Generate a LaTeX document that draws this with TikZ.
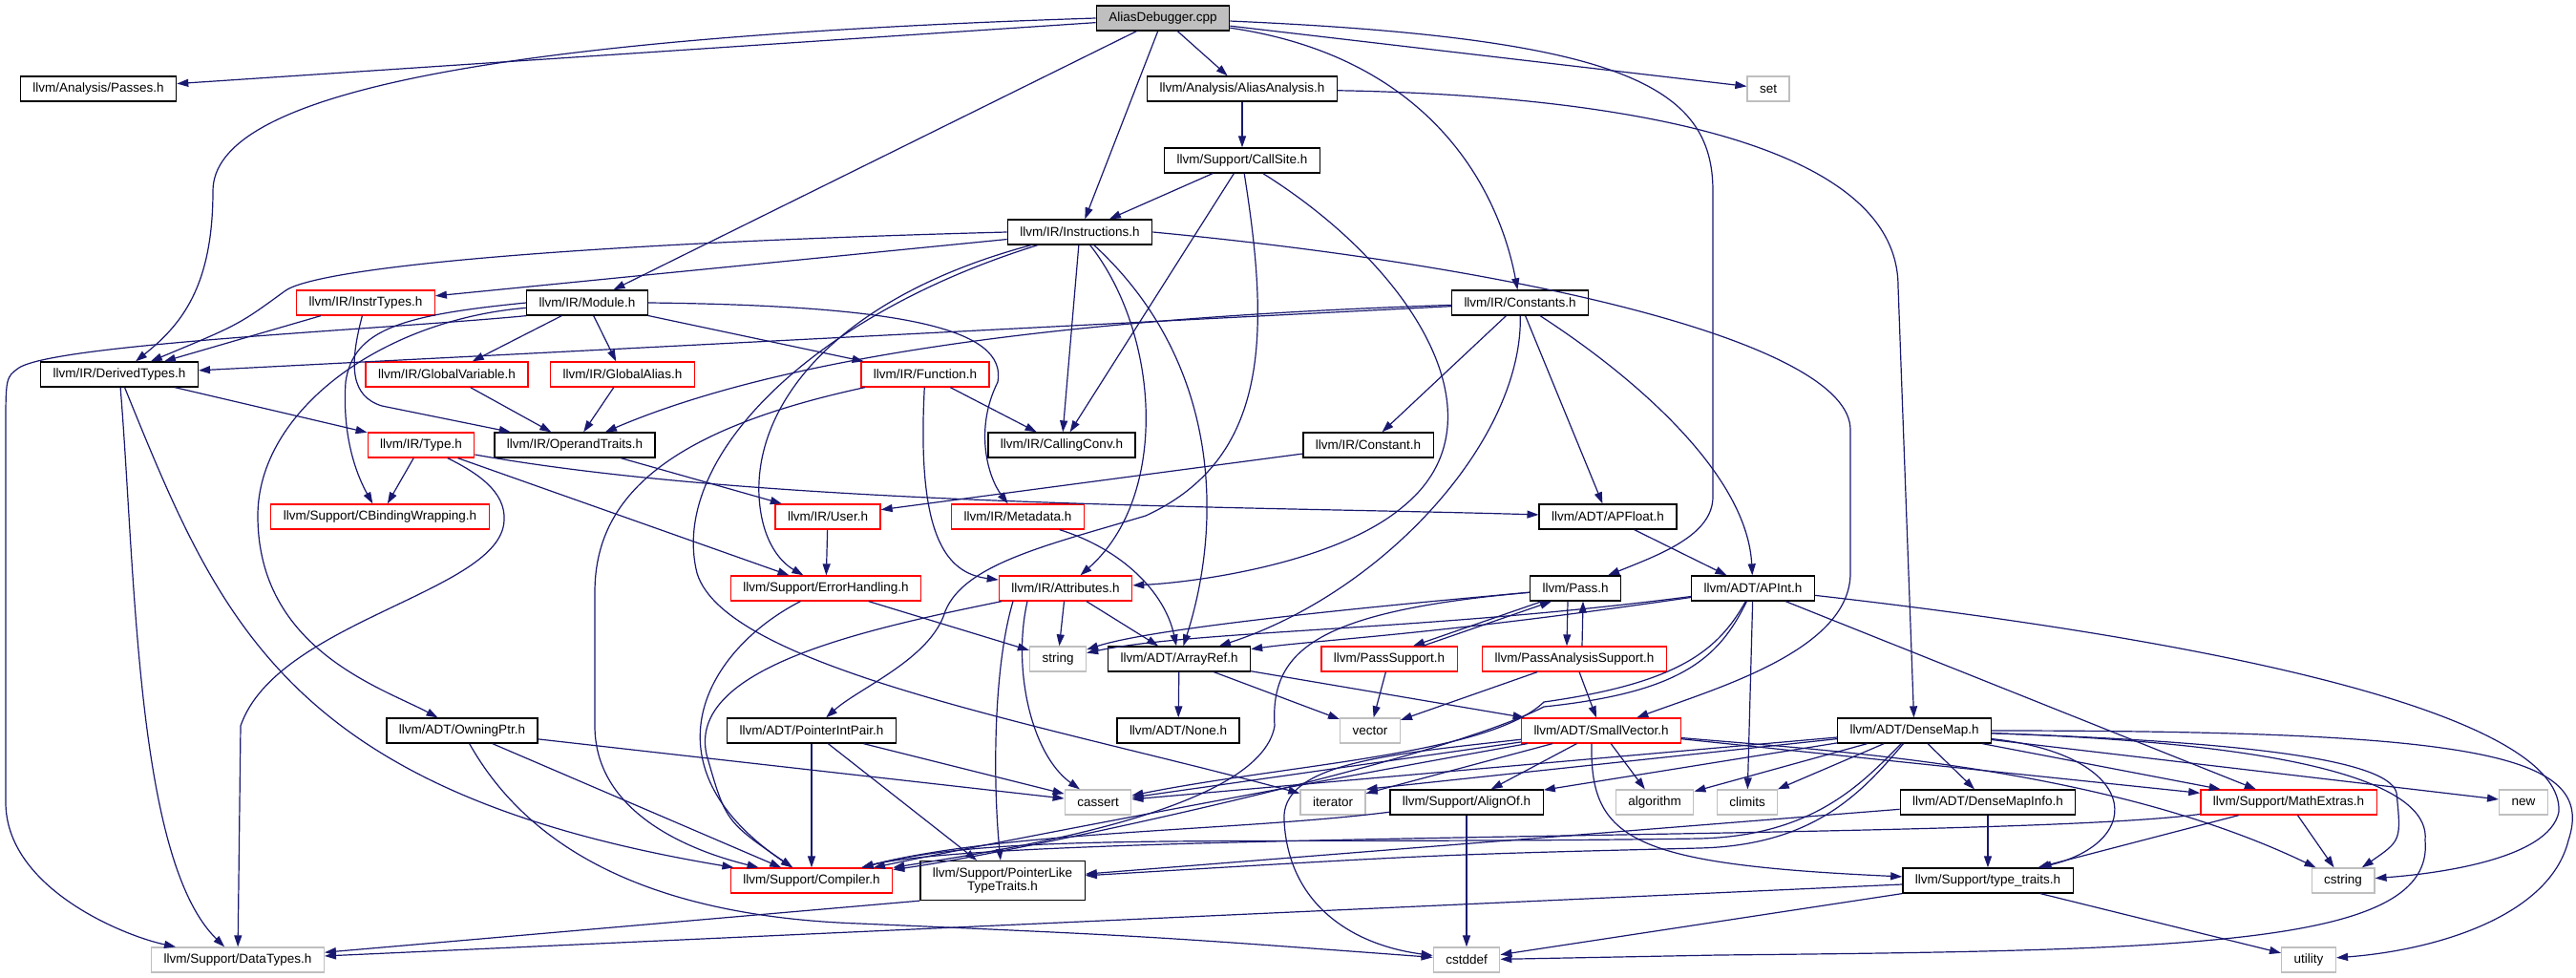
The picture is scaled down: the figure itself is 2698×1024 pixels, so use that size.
\documentclass[tikz,border=0pt]{standalone}
\usepackage{fontspec}
\setmainfont{Liberation Sans}
\usetikzlibrary{arrows.meta}
\definecolor{edgeblue}{HTML}{191970}
\definecolor{boxgray}{HTML}{BFBFBF}
\newcommand{\filefont}{\fontsize{13.5}{14}\selectfont}
\begin{document}
\begin{tikzpicture}[x=1pt, y=-1pt,
    >={Triangle[length=12pt, width=8pt]},
    file/.style={draw=black, fill=white, line width=1.3pt, minimum height=26pt, inner xsep=13pt, inner ysep=0pt, font=\filefont},
    redfile/.style={file, draw=red},
    sysfile/.style={file, draw=boxgray},
    mainfile/.style={file, fill=boxgray},
    dep/.style={->, draw=edgeblue, line width=1.2pt}]
    \useasboundingbox[fill=white] (0,0) rectangle (2698,1024);
    % row 0
    \node[mainfile] (ad) at (1218,19) {AliasDebugger.cpp};
    % row 1
    \node[file] (passes) at (103,93) {llvm/Analysis/Passes.h};
    \node[file] (aa) at (1301,93) {llvm/Analysis/AliasAnalysis.h};
    \node[sysfile] (set) at (1852,93) {set};
    % row 2
    \node[file] (callsite) at (1301,168) {llvm/Support/CallSite.h};
    % row 3
    \node[file] (instr) at (1131,243) {llvm/IR/Instructions.h};
    % row 4
    \node[redfile] (instrtypes) at (383,317) {llvm/IR/InstrTypes.h};
    \node[file] (module) at (615,317) {llvm/IR/Module.h};
    \node[file] (constants) at (1592,317) {llvm/IR/Constants.h};
    % row 5
    \node[file] (derived) at (125,392) {llvm/IR/DerivedTypes.h};
    \node[redfile] (globalvar) at (468,392) {llvm/IR/GlobalVariable.h};
    \node[redfile] (globalalias) at (652,392) {llvm/IR/GlobalAlias.h};
    \node[redfile] (function) at (969,392) {llvm/IR/Function.h};
    % row 6
    \node[redfile] (type) at (441,466) {llvm/IR/Type.h};
    \node[file] (operand) at (602,466) {llvm/IR/OperandTraits.h};
    \node[file] (callconv) at (1112,466) {llvm/IR/CallingConv.h};
    \node[file] (constant) at (1433,466) {llvm/IR/Constant.h};
    % row 7
    \node[redfile] (cbinding) at (398,541) {llvm/Support/CBindingWrapping.h};
    \node[redfile] (user) at (867,541) {llvm/IR/User.h};
    \node[redfile] (metadata) at (1066,541) {llvm/IR/Metadata.h};
    \node[file] (apfloat) at (1684,541) {llvm/ADT/APFloat.h};
    % row 8
    \node[redfile] (errorh) at (865,616) {llvm/Support/ErrorHandling.h};
    \node[redfile] (attrs) at (1116,616) {llvm/IR/Attributes.h};
    \node[file] (pass) at (1650,616) {llvm/Pass.h};
    \node[file] (apint) at (1836,616) {llvm/ADT/APInt.h};
    % row 9
    \node[sysfile] (string) at (1108,690) {string};
    \node[file] (arrayref) at (1235,690) {llvm/ADT/ArrayRef.h};
    \node[redfile] (passsupport) at (1455,690) {llvm/PassSupport.h};
    \node[redfile] (pas) at (1649,690) {llvm/PassAnalysisSupport.h};
    % row 10
    \node[file] (owning) at (484,765) {llvm/ADT/OwningPtr.h};
    \node[file] (ptrint) at (850,765) {llvm/ADT/PointerIntPair.h};
    \node[file] (none) at (1234,765) {llvm/ADT/None.h};
    \node[sysfile] (vector) at (1435,765) {vector};
    \node[redfile] (smallvec) at (1677,765) {llvm/ADT/SmallVector.h};
    \node[file] (densemap) at (2005,765) {llvm/ADT/DenseMap.h};
    % row 11
    \node[sysfile] (cassert) at (1150,840) {cassert};
    \node[sysfile] (iterator) at (1396,840) {iterator};
    \node[file] (alignof) at (1536,840) {llvm/Support/AlignOf.h};
    \node[sysfile] (algorithm) at (1733,840) {algorithm};
    \node[sysfile] (climits) at (1830,840) {climits};
    \node[file] (dmi) at (2082,840) {llvm/ADT/DenseMapInfo.h};
    \node[redfile] (mathx) at (2397,840) {llvm/Support/MathExtras.h};
    \node[sysfile] (newhdr) at (2643,840) {new};
    % row 12
    \node[redfile] (compiler) at (850,922) {llvm/Support/Compiler.h};
    \node[file, align=center, minimum height=41pt] (ptrlike) at (1050,922) {llvm/Support/PointerLike\\TypeTraits.h};
    \node[file] (typetraits) at (2082,922) {llvm/Support/type\_traits.h};
    \node[sysfile] (cstring) at (2454,922) {cstring};
    % row 13
    \node[sysfile] (datatypes) at (249,1005) {llvm/Support/DataTypes.h};
    \node[sysfile] (cstddef) at (1536,1005) {cstddef};
    \node[sysfile] (utility) at (2418,1005) {utility};
    % AliasDebugger.cpp
    \draw[dep] (ad) -- (passes);
    \draw[dep] (ad.west) .. controls (500,40) and (223,100) .. (223,200) .. controls (223,300) and (190,340) .. (derived);
    \draw[dep] (ad) -- (module);
    \draw[dep] (ad) -- (instr);
    \draw[dep] (ad) -- (aa);
    \draw[dep] (ad) .. controls (1500,60) and (1570,200) .. (constants);
    \draw[dep] (ad) .. controls (1700,40) and (1794,90) .. (1794,200) -- (1794,520) .. controls (1794,560) and (1740,580) .. (pass);
    \draw[dep] (ad) -- (set);
    % AliasAnalysis.h
    \draw[dep] (aa) -- (callsite);
    \draw[dep] (aa) .. controls (1700,100) and (1988,150) .. (1988,300) -- (densemap);
    % CallSite.h
    \draw[dep] (callsite) -- (instr);
    \draw[dep] (callsite) -- (callconv);
    \draw[dep] (callsite) .. controls (1330,350) and (1330,480) .. (1200,540) .. controls (1100,570) and (1010,590) .. (990,640) .. controls (975,690) and (900,720) .. (ptrint);
    \draw[dep] (callsite) .. controls (1480,280) and (1580,440) .. (1470,530) .. controls (1400,590) and (1250,610) .. (attrs);
    % Instructions.h
    \draw[dep] (instr) -- (instrtypes);
    \draw[dep] (instr.west) .. controls (600,255) and (330,280) .. (298,305) .. controls (250,340) .. (derived);
    \draw[dep] (instr) -- (callconv);
    \draw[dep] (instr) .. controls (1215,350) and (1225,520) .. (attrs);
    \draw[dep] (instr) .. controls (1280,380) and (1280,550) .. (arrayref);
    \draw[dep] (instr.east) .. controls (1600,280) and (1938,360) .. (1938,450) -- (1938,600) .. controls (1938,680) and (1800,720) .. (smallvec);
    \draw[dep] (instr) .. controls (880,310) and (790,420) .. (795,520) .. controls (798,570) and (820,590) .. (errorh);
    \draw[dep] (instr) .. controls (850,330) and (700,480) .. (730,600) .. controls (760,700) and (1100,760) .. (iterator);
    % InstrTypes.h
    \draw[dep] (instrtypes) -- (derived);
    \draw[dep] (instrtypes) .. controls (365,385) and (368,415) .. (400,425) -- (operand);
    % Module.h
    \draw[dep] (module) -- (globalvar);
    \draw[dep] (module) -- (globalalias);
    \draw[dep] (module) -- (function);
    \draw[dep] (module.east) .. controls (950,320) and (1055,345) .. (1045,400) .. controls (1020,450) and (1035,500) .. (metadata);
    \draw[dep] (module) .. controls (400,335) and (270,430) .. (270,540) .. controls (270,680) and (400,720) .. (owning);
    \draw[dep] (module.west) .. controls (420,330) and (370,345) .. (362,400) .. controls (358,460) and (375,500) .. (cbinding);
    \draw[dep] (module.south west) .. controls (400,345) and (60,360) .. (20,385) .. controls (6,395) .. (6,450) -- (6,840) .. controls (6,930) and (130,980) .. (datatypes);
    % Constants.h
    \draw[dep] (constants) -- (derived);
    \draw[dep] (constants) .. controls (1200,330) and (850,360) .. (operand);
    \draw[dep] (constants) -- (constant);
    \draw[dep] (constants) .. controls (1595,460) and (1450,620) .. (arrayref);
    \draw[dep] (constants) -- (apfloat);
    \draw[dep] (constants) .. controls (1720,400) and (1830,500) .. (apint);
    % DerivedTypes.h
    \draw[dep] (derived) -- (type);
    \draw[dep] (derived) .. controls (142,600) and (142,900) .. (datatypes);
    \draw[dep] (derived) .. controls (230,650) and (300,830) .. (compiler);
    % GlobalVariable.h, GlobalAlias.h
    \draw[dep] (globalvar) -- (operand);
    \draw[dep] (globalalias) -- (operand);
    % Function.h
    \draw[dep] (function) -- (callconv);
    \draw[dep] (function) .. controls (960,560) and (990,600) .. (attrs);
    \draw[dep] (function) .. controls (700,450) and (623,520) .. (623,620) -- (623,760) .. controls (623,850) and (720,890) .. (compiler);
    % Type.h
    \draw[dep] (type) -- (cbinding);
    \draw[dep] (type) -- (errorh);
    \draw[dep] (type) .. controls (800,530) and (1300,530) .. (apfloat);
    \draw[dep] (type) .. controls (500,495) and (530,515) .. (528,545) .. controls (525,620) and (290,650) .. (252,760) -- (datatypes);
    % OperandTraits.h, Constant.h, User.h
    \draw[dep] (operand) -- (user);
    \draw[dep] (constant) -- (user);
    \draw[dep] (user) -- (errorh);
    % Metadata.h, APFloat.h
    \draw[dep] (metadata) .. controls (1175,575) and (1220,620) .. (arrayref);
    \draw[dep] (apfloat) -- (apint);
    % ErrorHandling.h
    \draw[dep] (errorh) -- (string);
    \draw[dep] (errorh) .. controls (740,680) and (670,800) .. (compiler);
    % Attributes.h
    \draw[dep] (attrs) -- (string);
    \draw[dep] (attrs) -- (arrayref);
    \draw[dep] ([xshift=-40pt]attrs.south) .. controls (1060,700) and (1080,790) .. (cassert);
    \draw[dep] ([xshift=-55pt]attrs.south) .. controls (1040,700) and (1040,820) .. (ptrlike);
    \draw[dep] (attrs) .. controls (900,660) and (720,700) .. (740,790) .. controls (760,860) .. (compiler);
    % Pass.h
    \draw[dep] (pass) .. controls (1380,640) and (1200,660) .. (string);
    \draw[dep] (pass) .. controls (1380,640) and (1330,680) .. (1335,760) .. controls (1320,850) and (1050,890) .. (compiler);
    \draw[dep] ([xshift=-35pt]pass.south) -- ([xshift=25pt]passsupport.north);
    \draw[dep] ([xshift=-8pt]pass.south) -- ([xshift=-8pt]pas.north);
    % PassSupport.h
    \draw[dep] ([xshift=35pt]passsupport.north) -- ([xshift=-25pt]pass.south);
    \draw[dep] (passsupport) -- (vector);
    % PassAnalysisSupport.h
    \draw[dep] ([xshift=8pt]pas.north) -- ([xshift=8pt]pass.south);
    \draw[dep] (pas) -- (vector);
    \draw[dep] (pas) -- (smallvec);
    % APInt.h
    \draw[dep] (apint) .. controls (1500,660) and (1250,660) .. (string);
    \draw[dep] (apint) .. controls (1500,665) and (1380,670) .. (arrayref);
    \draw[dep] (apint) .. controls (1800,680) and (1760,715) .. (1617,735) .. controls (1560,790) and (1350,800) .. (cassert);
    \draw[dep] (apint) .. controls (1800,690) and (1760,725) .. (1617,740) .. controls (1500,800) and (1050,895) .. (compiler);
    \draw[dep] (apint) -- (climits);
    \draw[dep] (apint) -- (mathx);
    \draw[dep] (apint) .. controls (2400,680) and (2685,760) .. (2680,850) .. controls (2670,900) and (2550,915) .. (cstring);
    % ArrayRef.h
    \draw[dep] (arrayref) -- (none);
    \draw[dep] (arrayref) -- (vector);
    \draw[dep] (arrayref) -- (smallvec);
    % OwningPtr.h
    \draw[dep] (owning) -- (compiler);
    \draw[dep] (owning) -- (cassert);
    \draw[dep] (owning) .. controls (560,900) and (700,960) .. (900,967) .. controls (1200,980) .. (cstddef);
    % PointerIntPair.h
    \draw[dep] (ptrint) -- (compiler);
    \draw[dep] (ptrint) -- (ptrlike);
    \draw[dep] (ptrint) -- (cassert);
    % SmallVector.h
    \draw[dep] (smallvec) -- (cassert);
    \draw[dep] (smallvec) -- (iterator);
    \draw[dep] (smallvec) -- (alignof);
    \draw[dep] (smallvec) -- (algorithm);
    \draw[dep] (smallvec) .. controls (1450,790) and (1340,800) .. (1345,860) .. controls (1350,950) and (1420,990) .. (cstddef);
    \draw[dep] (smallvec) .. controls (1450,805) and (1050,880) .. (compiler);
    \draw[dep] ([xshift=-10pt]smallvec.south) .. controls (1665,880) and (1710,905) .. (typetraits);
    \draw[dep] (smallvec) -- (mathx);
    \draw[dep] (smallvec) .. controls (1900,785) and (2200,800) .. (cstring);
    % AlignOf.h
    \draw[dep] (alignof) -- (cstddef);
    \draw[dep] (alignof) .. controls (1300,870) and (1050,870) .. (compiler);
    % DenseMap.h
    \draw[dep] (densemap) -- (dmi);
    \draw[dep] (densemap) -- (alignof);
    \draw[dep] (densemap) .. controls (1950,820) and (1900,875) .. (1780,878) .. controls (1300,885) and (1050,870) .. (compiler);
    \draw[dep] (densemap) -- (mathx);
    \draw[dep] (densemap) .. controls (1950,830) and (1900,885) .. (1780,888) .. controls (1500,895) .. (ptrlike);
    \draw[dep] (densemap) .. controls (2240,790) and (2250,880) .. (typetraits);
    \draw[dep] (densemap) -- (algorithm);
    \draw[dep] (densemap) -- (cassert);
    \draw[dep] (densemap) -- (climits);
    \draw[dep] (densemap) .. controls (2450,780) and (2545,830) .. (2540,880) .. controls (2550,990) and (2300,995) .. (1800,1000) -- (cstddef);
    \draw[dep] (densemap) .. controls (2300,775) and (2500,790) .. (2510,830) .. controls (2515,880) .. (cstring);
    \draw[dep] (densemap) -- (iterator.north east);
    \draw[dep] (densemap) -- (newhdr);
    \draw[dep] (densemap) .. controls (2600,765) and (2720,790) .. (2690,880) .. controls (2670,960) and (2550,995) .. (utility);
    % DenseMapInfo.h
    \draw[dep] (dmi) -- (ptrlike);
    \draw[dep] (dmi) -- (typetraits);
    % MathExtras.h
    \draw[dep] (mathx) .. controls (2100,880) and (1050,870) .. (compiler);
    \draw[dep] (mathx) -- (typetraits);
    \draw[dep] (mathx) -- (cstring);
    % type_traits.h
    \draw[dep] (typetraits) -- (datatypes);
    \draw[dep] (typetraits) -- (cstddef);
    \draw[dep] (typetraits) -- (utility);
    % PointerLikeTypeTraits.h
    \draw[dep] (ptrlike.south west) -- (datatypes);
\end{tikzpicture}
\end{document}
